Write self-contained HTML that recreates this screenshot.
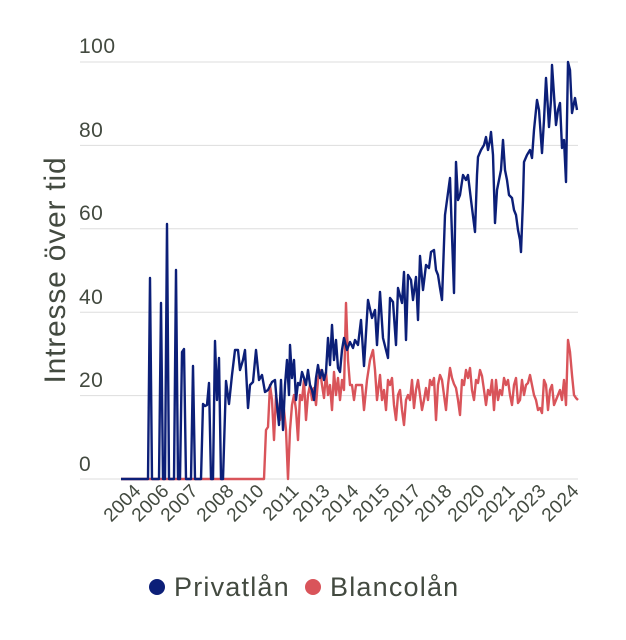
<!DOCTYPE html>
<html><head><meta charset="utf-8"><style>
body{margin:0;background:#fff;width:626px;height:635px;overflow:hidden}
text{font-family:"Liberation Sans",sans-serif;fill:#434a40}
</style></head><body>
<svg width="626" height="635" viewBox="0 0 626 635" xmlns="http://www.w3.org/2000/svg">
<g stroke="#dddddd" stroke-width="1">
<line x1="80" x2="578" y1="62" y2="62"/><line x1="80" x2="578" y1="145.4" y2="145.4"/>
<line x1="80" x2="578" y1="228.8" y2="228.8"/><line x1="80" x2="578" y1="312.2" y2="312.2"/>
<line x1="80" x2="578" y1="395.6" y2="395.6"/><line x1="80" x2="578" y1="479" y2="479"/>
</g>
<g font-size="21" letter-spacing="0.5">
<text x="79" y="53">100</text><text x="79" y="137">80</text><text x="79" y="220">60</text>
<text x="79" y="304">40</text><text x="79" y="387">20</text><text x="79" y="471">0</text>
</g>
<text transform="translate(65,270) rotate(-90)" text-anchor="middle" font-size="30" letter-spacing="0.8">Intresse över tid</text>
<g font-size="19" text-anchor="end" letter-spacing="0.3">
<text transform="translate(142,492) rotate(-45)">2004</text>
<text transform="translate(170,492) rotate(-45)">2006</text>
<text transform="translate(199,492) rotate(-45)">2007</text>
<text transform="translate(235,492) rotate(-45)">2008</text>
<text transform="translate(265,492) rotate(-45)">2010</text>
<text transform="translate(300,492) rotate(-45)">2011</text>
<text transform="translate(331,492) rotate(-45)">2013</text>
<text transform="translate(360,492) rotate(-45)">2014</text>
<text transform="translate(391,492) rotate(-45)">2015</text>
<text transform="translate(422,492) rotate(-45)">2017</text>
<text transform="translate(453,492) rotate(-45)">2018</text>
<text transform="translate(486,492) rotate(-45)">2020</text>
<text transform="translate(516,492) rotate(-45)">2021</text>
<text transform="translate(547,492) rotate(-45)">2023</text>
<text transform="translate(580,492) rotate(-45)">2024</text>
</g>
<polyline fill="none" stroke="#d9545a" stroke-width="2.4" stroke-linejoin="round" points="121,479 264,479 266,430 268,427 270,385 272,400 274,440 276,395 278,410 280,420 282,400 284,410 286,430 288,479 290,430 292,405 294,395 296,410 298,440 300,395 302,400 304,380 306,420 308,395 310,385 312,400 314,388 316,405 318,380 320,370 322,385 324,398 326,372 328,395 330,385 332,410 334,372 336,395 338,378 340,400 342,380 344,390 346,303 348,360 350,385 352,385 354,400 356,385 358,385 360,385 362,385 364,410 367,380 370,360 373,350 375,370 377,400 380,375 382,400 384,390 386,410 388,380 390,385 392,378 394,405 396,420 398,395 400,390 402,410 404,425 406,400 408,395 410,400 412,380 414,408 416,390 418,380 420,395 422,410 424,400 426,388 428,400 430,380 432,385 434,378 436,420 438,385 440,375 442,380 444,395 446,410 448,385 450,368 452,378 454,384 456,388 458,400 460,415 462,380 464,385 466,370 468,378 470,368 472,390 474,400 476,380 478,383 480,370 482,376 484,390 486,405 488,390 490,395 492,380 494,410 496,380 498,400 500,390 502,395 504,378 506,385 508,380 510,395 512,405 514,385 516,378 518,403 520,400 522,380 524,395 526,385 528,383 530,375 532,385 534,395 536,400 538,410 540,408 542,413 544,380 546,385 548,410 550,390 552,385 554,405 556,400 558,395 560,390 562,400 564,380 566,405 568,340 570,352 572,375 574,395 576,398 578,400"/>
<polyline fill="none" stroke="#0c1f78" stroke-width="2.4" stroke-linejoin="round" points="121,479 148,479 150,278 152,479 159,479 161,303 163,479 165,479 167,224 169,479 174,479 176,270 178,479 180,479 182,352 184,349 186,479 191,479 193,366 195,479 201,479 203,404 205,406 207,405 209,383 211,479 213,479 215,341 217,400 219,358 221,479 223,479 226,381 229,404 232,375 235,350 238,350 240,370 243,360 245,350 248,408 250,385 253,382 256,350 259,380 262,375 265,392 268,390 272,382 275,380 277,405 279,425 281,380 283,430 285,385 287,360 289,395 290,345 292,378 294,360 296,400 298,383 300,385 302,372 304,378 306,385 308,370 310,385 312,390 314,400 316,378 318,365 320,378 322,370 324,380 326,372 328,338 330,365 332,325 334,360 336,340 338,368 340,372 342,350 344,338 347,350 350,342 353,348 355,340 358,345 361,320 364,366 368,300 372,318 375,310 377,345 380,292 383,338 386,350 388,358 390,298 393,302 396,345 398,288 402,303 404,272 406,340 408,275 411,280 413,300 416,277 418,320 420,256 423,290 426,265 429,268 431,252 434,250 436,270 438,275 440,288 442,300 445,215 450,178 454,293 456,162 458,200 460,195 463,175 466,180 468,175 471,200 475,232 477,175 478,157 481,150 484,145 486,137 488,150 490,140 491,132 493,155 495,223 497,190 499,180 501,170 503,140 505,170 507,180 509,195 512,198 514,210 516,215 518,230 520,240 521,252 523,200 524,162 527,155 530,150 532,158 534,130 537,100 539,110 542,153 544,120 546,78 548,110 549,127 551,100 552,65 554,95 556,125 558,110 560,103 562,148 564,140 566,182 567,120 568,62 570,70 572,113 575,98 577,110"/>
<circle cx="157" cy="587" r="8" fill="#0c1f78"/>
<text x="174" y="596" font-size="27" letter-spacing="1.2">Privatlån</text>
<circle cx="313" cy="587" r="8" fill="#d9545a"/>
<text x="330" y="596" font-size="27" letter-spacing="1.2">Blancolån</text>
</svg>
</body></html>
